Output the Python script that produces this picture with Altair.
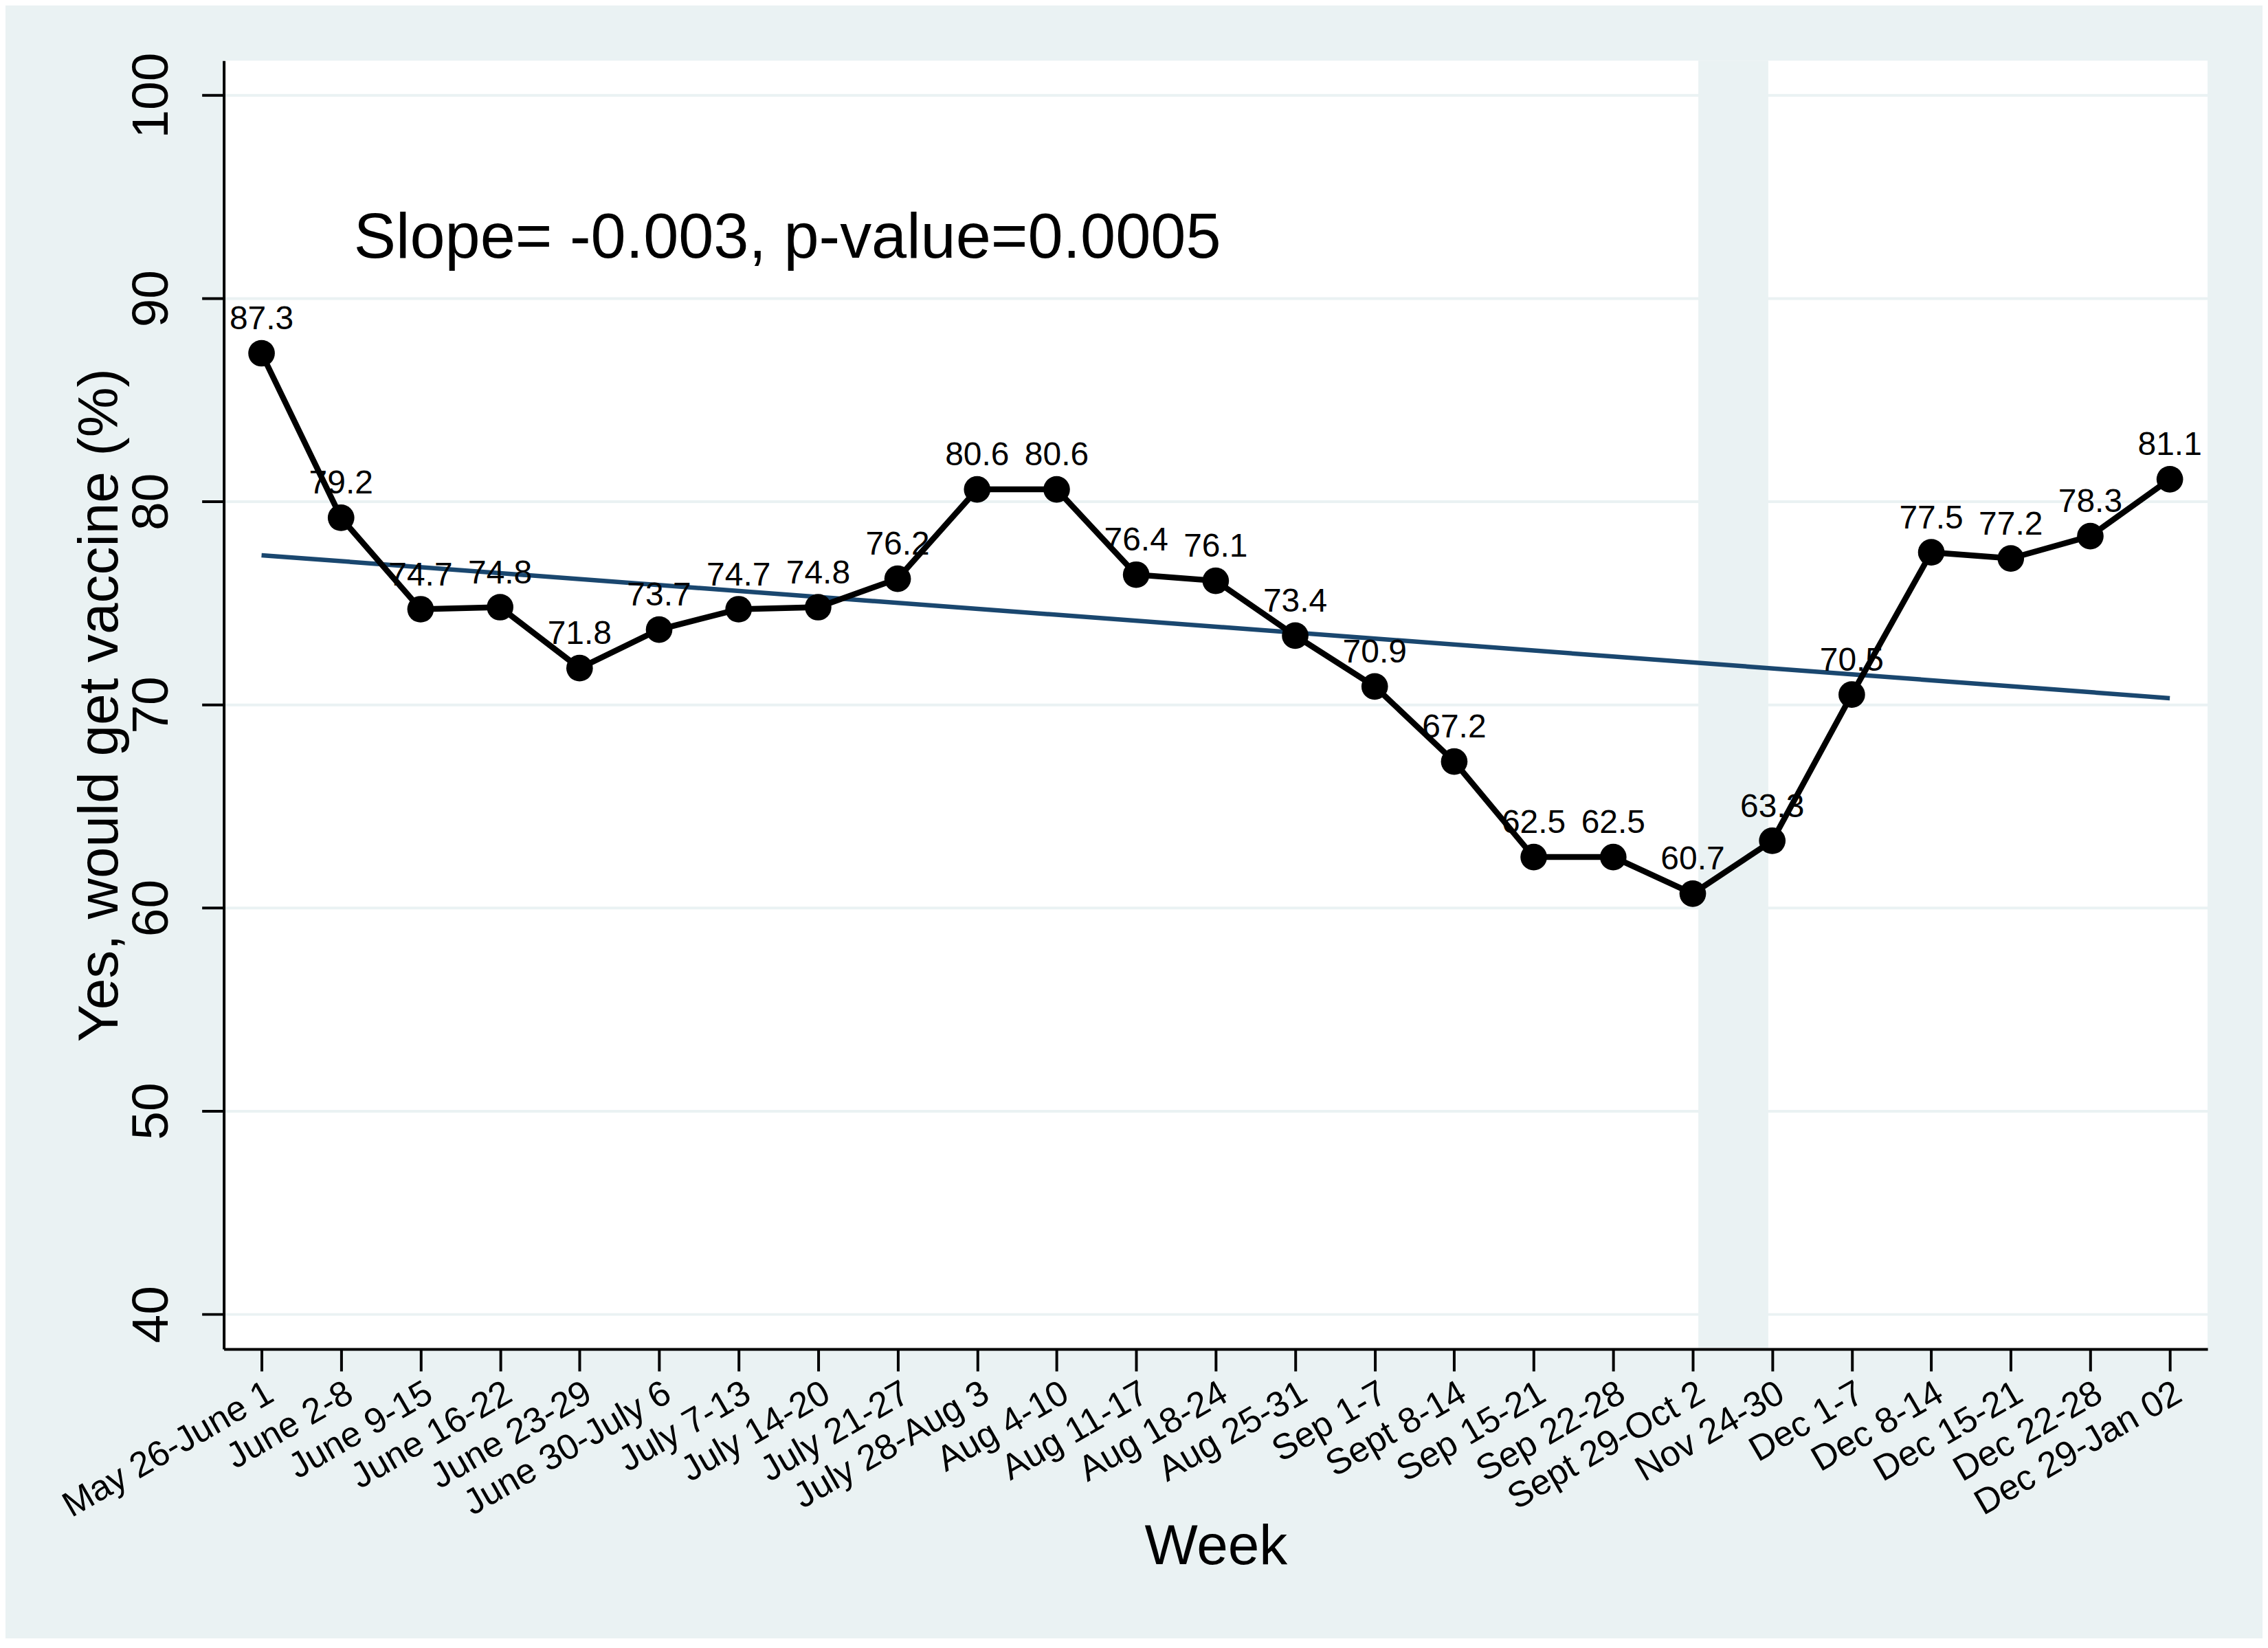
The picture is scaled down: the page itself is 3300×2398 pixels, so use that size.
import json
import altair as alt
import pandas as pd

weeks = ["May 26-June 1", "June 2-8", "June 9-15", "June 16-22", "June 23-29",
         "June 30-July 6", "July 7-13", "July 14-20", "July 21-27", "July 28-Aug 3",
         "Aug 4-10", "Aug 11-17", "Aug 18-24", "Aug 25-31", "Sep 1-7", "Sept 8-14",
         "Sep 15-21", "Sep 22-28", "Sept 29-Oct 2", "Nov 24-30", "Dec 1-7",
         "Dec 8-14", "Dec 15-21", "Dec 22-28", "Dec 29-Jan 02"]
yes_pct = [87.3, 79.2, 74.7, 74.8, 71.8, 73.7, 74.7, 74.8, 76.2, 80.6, 80.6, 76.4,
           76.1, 73.4, 70.9, 67.2, 62.5, 62.5, 60.7, 63.3, 70.5, 77.5, 77.2, 78.3, 81.1]
y_ticks = [40, 50, 60, 70, 80, 90, 100]
gap_bounds = [18.07, 18.95]          # break in the time axis (Oct 3 - Nov 23)
annotation = "Slope= -0.003, p-value=0.0005"
annotation_pos = [1.16, 92.0]

BG = "#EAF2F3"
FONT = "Liberation Sans"
W, H = 2890, 1877

df = pd.DataFrame({"idx": list(range(len(weeks))), "week": weeks, "value": yes_pct})
gap_df = pd.DataFrame({"x0": [gap_bounds[0]], "x1": [gap_bounds[1]]})
ann_df = pd.DataFrame({"x": [annotation_pos[0]], "y": [annotation_pos[1]], "t": [annotation]})

label_expr = json.dumps(weeks) + "[datum.value]"

xscale = alt.Scale(domain=[-0.475, 24.475], nice=False, zero=False)
yscale = alt.Scale(domain=[38.28, 101.7], nice=False, zero=False)

xaxis = alt.Axis(values=list(range(len(weeks))), labelExpr=label_expr, title="Week",
                 labelAngle=330, labelAlign="right", labelBaseline="top",
                 labelPadding=6, labelFontSize=52, labelFont=FONT, labelColor="black",
                 labelLimit=0, labelOverlap=False, labelFlush=False,
                 tickSize=32, tickWidth=4, tickColor="black",
                 domainColor="black", domainWidth=4, grid=False,
                 titleFontSize=82, titleFont=FONT, titleFontWeight="normal", titleColor="black",
                 titleY=288, titleBaseline="middle")
yaxis = alt.Axis(values=y_ticks, title="Yes, would get vaccine (%)",
                 labelAngle=270, labelAlign="center", labelBaseline="bottom",
                 labelPadding=34, labelFontSize=75, labelFont=FONT, labelColor="black",
                 labelFlush=False,
                 tickSize=32, tickWidth=4, tickColor="black",
                 domainColor="black", domainWidth=4,
                 grid=True, gridColor=BG, gridWidth=4,
                 titleFontSize=82, titleFont=FONT, titleFontWeight="normal", titleColor="black",
                 titleX=-180, titleY=H / 2, titleAngle=270, titleBaseline="middle",
                 titleAlign="center")

base = alt.Chart(df)

band = alt.Chart(gap_df).mark_rect(color=BG).encode(
    x=alt.X("x0:Q", scale=xscale, axis=xaxis),
    x2="x1:Q",
    y=alt.value(0), y2=alt.value(H - 2),
)

trend = base.transform_regression("idx", "value").mark_line(
    color="#1A476F", strokeWidth=6.5).encode(
    x=alt.X("idx:Q", scale=xscale, axis=xaxis),
    y=alt.Y("value:Q", scale=yscale, axis=yaxis),
)

line = base.mark_line(color="black", strokeWidth=8.5).encode(
    x=alt.X("idx:Q", scale=xscale, axis=xaxis),
    y=alt.Y("value:Q", scale=yscale, axis=yaxis),
)

points = base.mark_circle(color="black", size=1500, opacity=1).encode(
    x=alt.X("idx:Q", scale=xscale, axis=xaxis),
    y=alt.Y("value:Q", scale=yscale, axis=yaxis),
)

labels = base.mark_text(font=FONT, fontSize=48, color="black", dy=-35,
                        baseline="alphabetic", align="center").encode(
    x=alt.X("idx:Q", scale=xscale, axis=xaxis),
    y=alt.Y("value:Q", scale=yscale, axis=yaxis),
    text=alt.Text("value:Q", format=".1f"),
)

ann = alt.Chart(ann_df).mark_text(font=FONT, fontSize=92, color="black",
                                  align="left", baseline="alphabetic").encode(
    x=alt.X("x:Q", scale=xscale, axis=xaxis),
    y=alt.Y("y:Q", scale=yscale, axis=yaxis),
    text="t:N",
)

chart = alt.layer(band, trend, line, points, labels, ann).properties(
    width=W, height=H,
    autosize=alt.AutoSizeParams(type="none"),
    padding={"left": 318, "top": 79, "right": 80, "bottom": 420},
).configure(background=BG).configure_view(fill="white", stroke=None)

chart.save("out.html", embed_options={"renderer": "svg", "actions": False})
